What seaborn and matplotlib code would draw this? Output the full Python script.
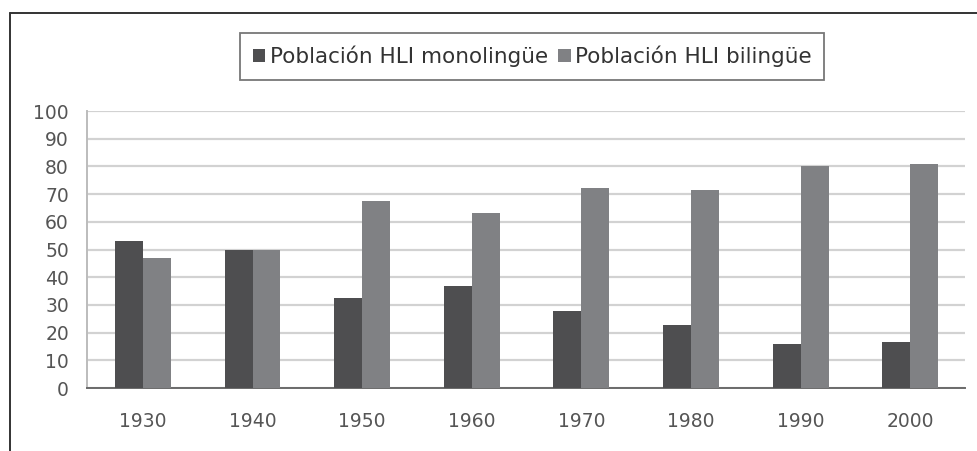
import pandas as pd
import matplotlib.pyplot as plt
import seaborn as sns
from matplotlib.lines import Line2D
from matplotlib.patches import Patch

years = ["1930", "1940", "1950", "1960", "1970", "1980", "1990", "2000"]
monolingue = [53, 50, 32.5, 36.8, 27.8, 22.8, 15.8, 16.5]
bilingue = [47, 50, 67.5, 63.2, 72.2, 71.5, 80, 81]
series = ["Población HLI monolingüe", "Población HLI bilingüe"]
colors = ["#4e4e50", "#808184"]

df = pd.DataFrame({
    "anio": years * 2,
    "valor": monolingue + bilingue,
    "serie": [series[0]] * len(years) + [series[1]] * len(years),
})

sns.set_style("white")
plt.rcParams["font.family"] = ["DejaVu Sans"]

fig = plt.figure(figsize=(9.77, 4.51), dpi=100)
ax = fig.add_axes([87 / 977, 1 - 388 / 451, (965 - 87) / 977, (388 - 111) / 451])

sns.barplot(data=df, x="anio", y="valor", hue="serie", palette=colors,
            width=0.51, gap=0, saturation=1, linewidth=0, ax=ax, legend=False, zorder=3)

ax.set_ylim(0, 100)
ax.set_xlim(-0.51, 7.5)
ax.set_yticks(range(0, 101, 10))
ax.yaxis.grid(True, color="#d2d2d2", linewidth=1.6, zorder=0)
ax.set_axisbelow(True)
ax.set_xlabel("")
ax.set_ylabel("")
for s in ["top", "right"]:
    ax.spines[s].set_visible(False)
ax.spines["left"].set_color("#bcbcbc")
ax.spines["left"].set_linewidth(1.4)
ax.spines["bottom"].set_color("#6a6a6a")
ax.spines["bottom"].set_linewidth(1.4)
ax.tick_params(axis="y", length=3, color="#bcbcbc", pad=10, labelsize=13.5, labelcolor="#555555")
ax.tick_params(axis="x", length=0, pad=17, labelsize=13.5, labelcolor="#555555")

handles = [Patch(facecolor=c, edgecolor="none") for c in colors]
leg = fig.legend(handles, series, loc="center", bbox_to_anchor=(532 / 977, 1 - 56.5 / 451),
                 ncol=2, frameon=True, fontsize=15.5, handlelength=0.6, handleheight=0.6,
                 handletextpad=0.2, columnspacing=0.45, borderpad=0.6, fancybox=False)
leg.get_frame().set_edgecolor("#555555")
leg.get_frame().set_linewidth(1.3)
for t in leg.get_texts():
    t.set_color("#333333")

fig.add_artist(Line2D([10 / 977, 10 / 977], [0, 1 - 13 / 451], transform=fig.transFigure,
                      color="#333333", linewidth=1.4))
fig.add_artist(Line2D([10 / 977, 1], [1 - 13 / 451, 1 - 13 / 451], transform=fig.transFigure,
                      color="#333333", linewidth=1.4))

plt.savefig("out.png", dpi=100)
plt.close()
